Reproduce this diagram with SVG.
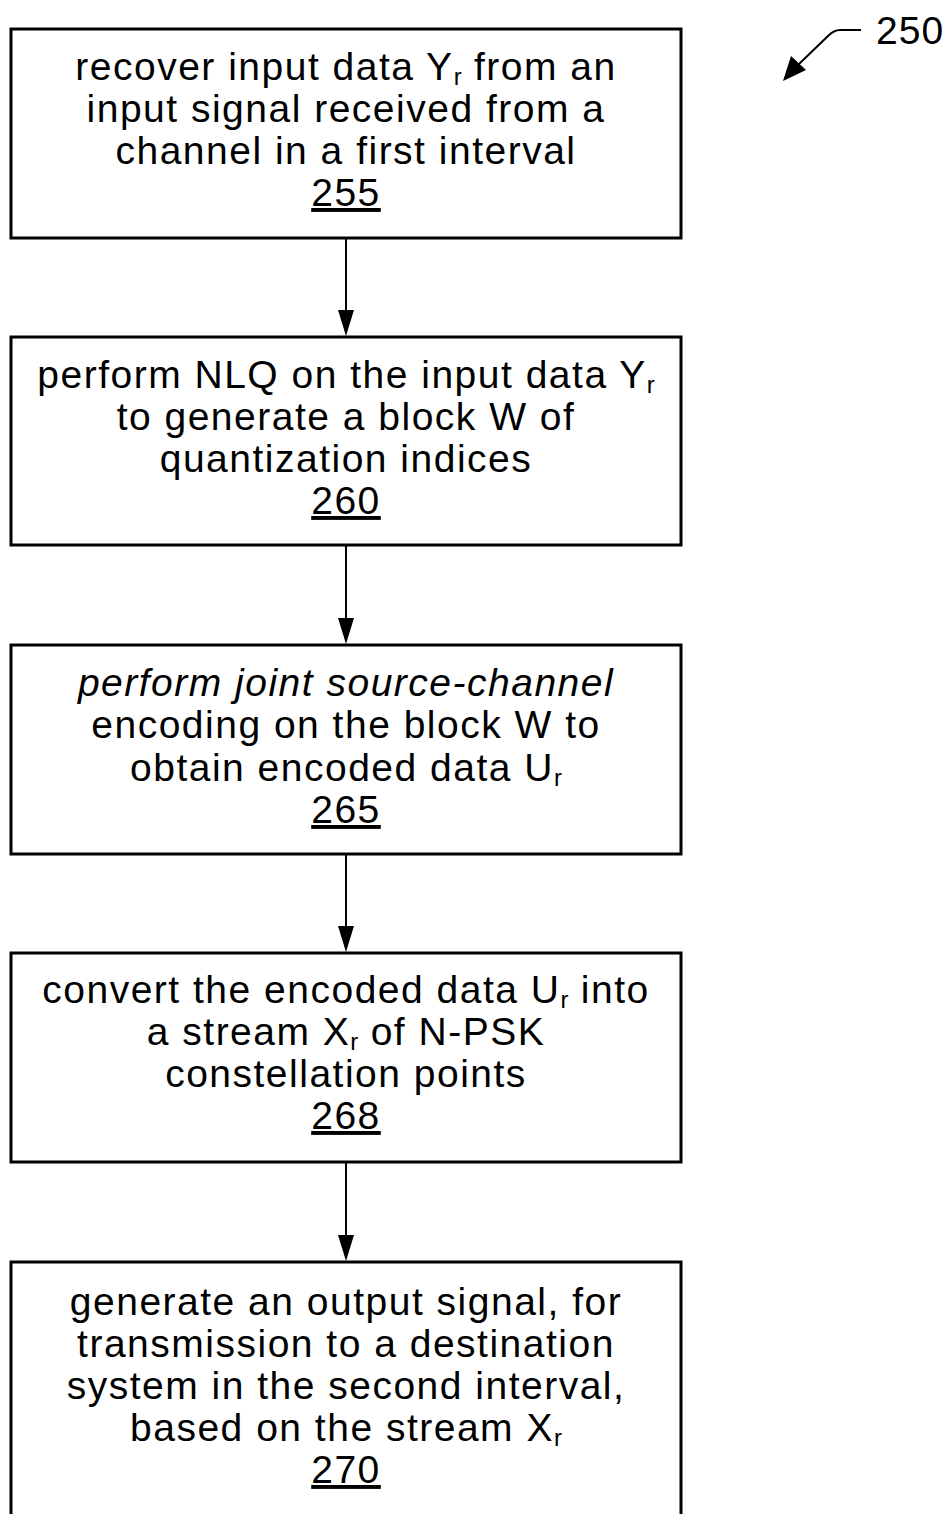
<svg xmlns="http://www.w3.org/2000/svg" width="950" height="1514" viewBox="0 0 950 1514">
<style>
.box{fill:#fff;stroke:#000;stroke-width:3}
.t{font-family:"Liberation Sans",Arial,sans-serif;font-size:39px;letter-spacing:1.5px;fill:#000;text-anchor:middle}
.s{font-size:24px;letter-spacing:0}
.n{text-decoration:underline}
.c{stroke:#000;stroke-width:2;fill:none}
</style>
<rect width="950" height="1514" fill="#fff"/>
<g id="connectors">
<line class="c" x1="346" y1="238" x2="346" y2="312"/><path d="M338,310 L354,310 L346,336 Z"/>
<line class="c" x1="346" y1="545" x2="346" y2="620"/><path d="M338,618 L354,618 L346,644 Z"/>
<line class="c" x1="346" y1="854" x2="346" y2="928"/><path d="M338,926 L354,926 L346,952 Z"/>
<line class="c" x1="346" y1="1162" x2="346" y2="1237"/><path d="M338,1235 L354,1235 L346,1261 Z"/>
</g>
<g id="label250">
<text x="876" y="44" style="font-family:'Liberation Sans',Arial,sans-serif;font-size:39px;letter-spacing:1px">250</text>
<path class="c" d="M861,30 L840,30 Q834,30 828,36 L799,64"/>
<path d="M783,81 L791,56 L806,70 Z"/>
</g>
<g id="n255">
<rect class="box" x="11" y="29" width="670" height="209"/>
<text class="t" x="346" y="80">recover input data Y<tspan class="s" dy="5">r</tspan><tspan dy="-5"> from an</tspan></text>
<text class="t" x="346" y="122">input signal received from a</text>
<text class="t" x="346" y="164">channel in a first interval</text>
<text class="t n" x="346" y="206">255</text>
</g>
<g id="n260">
<rect class="box" x="11" y="337" width="670" height="208"/>
<text class="t" x="346" y="388">perform NLQ on the input data Y<tspan class="s" dy="5">r</tspan></text>
<text class="t" x="346" y="430">to generate a block W of</text>
<text class="t" x="346" y="472">quantization indices</text>
<text class="t n" x="346" y="514">260</text>
</g>
<g id="n265">
<rect class="box" x="11" y="645" width="670" height="209"/>
<text class="t" x="346" y="696" font-style="italic">perform joint source-channel</text>
<text class="t" x="346" y="738">encoding on the block W to</text>
<text class="t" x="346" y="781">obtain encoded data U<tspan class="s" dy="5">r</tspan></text>
<text class="t n" x="346" y="823">265</text>
</g>
<g id="n268">
<rect class="box" x="11" y="953" width="670" height="209"/>
<text class="t" x="346" y="1003">convert the encoded data U<tspan class="s" dy="5">r</tspan><tspan dy="-5"> into</tspan></text>
<text class="t" x="346" y="1045">a stream X<tspan class="s" dy="5">r</tspan><tspan dy="-5"> of N-PSK</tspan></text>
<text class="t" x="346" y="1087">constellation points</text>
<text class="t n" x="346" y="1129">268</text>
</g>
<g id="n270">
<path class="box" d="M11,1520 L11,1262 L681,1262 L681,1520"/>
<text class="t" x="346" y="1315">generate an output signal, for</text>
<text class="t" x="346" y="1357">transmission to a destination</text>
<text class="t" x="346" y="1399">system in the second interval,</text>
<text class="t" x="346" y="1441">based on the stream X<tspan class="s" dy="5">r</tspan></text>
<text class="t n" x="346" y="1483">270</text>
</g>
</svg>
